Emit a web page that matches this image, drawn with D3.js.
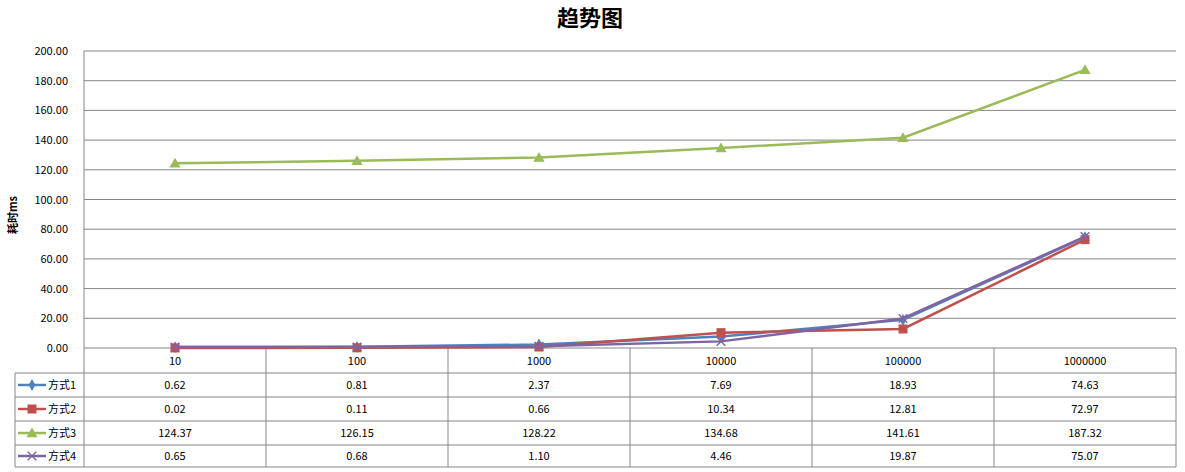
<!DOCTYPE html>
<html>
<head>
<meta charset="utf-8">
<style>
  body { margin: 0; background: #fff; }
  text { font-family: "Noto Sans CJK SC", "DejaVu Sans", sans-serif; }
</style>
</head>
<body>
<svg id="chart" width="1185" height="472"></svg>
<script src="https://cdnjs.cloudflare.com/ajax/libs/d3/7.8.5/d3.min.js"></script>
<script>
var categories = ['10', '100', '1000', '10000', '100000', '1000000'];
var seriesNames = ['方式1', '方式2', '方式3', '方式4'];
var way1 = [0.62, 0.81, 2.37, 7.69, 18.93, 74.63];
var way2 = [0.02, 0.11, 0.66, 10.34, 12.81, 72.97];
var way3 = [124.37, 126.15, 128.22, 134.68, 141.61, 187.32];
var way4 = [0.65, 0.68, 1.10, 4.46, 19.87, 75.07];
var yTicks = [0, 20, 40, 60, 80, 100, 120, 140, 160, 180, 200];
var colors = ['#4F81BD', '#C0504D', '#9BBB59', '#8064A2'];
var series = [way1, way2, way3, way4];

var svg = d3.select('#chart');
var plotLeft = 84, plotRight = 1176, plotTop = 51, plotBottom = 348;
var legendLeft = 15;
var rowTops = [348, 373, 397, 421, 445, 467];

var x = d3.scaleBand().domain(categories).range([plotLeft, plotRight]);
var y = d3.scaleLinear().domain([0, 200]).range([plotBottom, plotTop]);

svg.append('text').attr('x', 590).attr('y', 26).attr('text-anchor', 'middle')
  .attr('font-size', 22).attr('font-weight', 'bold').text('趋势图');

svg.append('text').attr('transform', 'translate(17,215) rotate(-90)')
  .attr('text-anchor', 'middle').attr('font-size', 11).attr('font-weight', 'bold').text('耗时ms');

// gridlines and y labels
yTicks.forEach(function(t) {
  svg.append('line').attr('x1', plotLeft).attr('x2', plotRight).attr('y1', y(t)).attr('y2', y(t))
    .attr('stroke', '#868686').attr('stroke-width', 1);
  svg.append('text').attr('x', plotLeft - 16).attr('y', y(t) + 4).attr('text-anchor', 'end')
    .attr('font-size', 11).text(t.toFixed(2));
});
svg.append('line').attr('x1', plotLeft).attr('x2', plotLeft).attr('y1', plotTop).attr('y2', plotBottom).attr('stroke', '#868686');

// data table
var tbl = svg.append('g').attr('stroke', '#868686').attr('stroke-width', 1);
rowTops.slice(1).forEach(function(r) {
  tbl.append('line').attr('x1', legendLeft).attr('x2', plotRight).attr('y1', r).attr('y2', r);
});
tbl.append('line').attr('x1', legendLeft).attr('x2', legendLeft).attr('y1', rowTops[1]).attr('y2', rowTops[5]);
categories.forEach(function(c) {
  tbl.append('line').attr('x1', x(c)).attr('x2', x(c)).attr('y1', rowTops[0]).attr('y2', rowTops[5]);
});
tbl.append('line').attr('x1', plotRight).attr('x2', plotRight).attr('y1', rowTops[0]).attr('y2', rowTops[5]);

categories.forEach(function(c) {
  svg.append('text').attr('x', x(c) + x.bandwidth() / 2).attr('y', 365).attr('text-anchor', 'middle')
    .attr('font-size', 11).text(c);
});

function marker(g, i, cx, cy) {
  var col = colors[i];
  if (i === 0) g.append('path').attr('d', d3.symbol(d3.symbolDiamond, 40)()).attr('transform', 'translate(' + cx + ',' + cy + ')').attr('fill', col);
  else if (i === 1) g.append('rect').attr('x', cx - 4.5).attr('y', cy - 4.5).attr('width', 9).attr('height', 9).attr('fill', col);
  else if (i === 2) g.append('path').attr('d', d3.symbol(d3.symbolTriangle, 55)()).attr('transform', 'translate(' + cx + ',' + (cy + 1) + ')').attr('fill', col);
  else g.append('path').attr('d', d3.symbol(d3.symbolX, 50)()).attr('transform', 'translate(' + cx + ',' + cy + ')')
    .attr('fill', 'none').attr('stroke', col).attr('stroke-width', 1.5);
}

var line = d3.line().x(function(d, i) { return x(categories[i]) + x.bandwidth() / 2; }).y(function(d) { return y(d); });

series.forEach(function(s, i) {
  var g = svg.append('g');
  g.append('path').attr('d', line(s)).attr('fill', 'none').attr('stroke', colors[i]).attr('stroke-width', 2.5);
  s.forEach(function(v, j) { marker(g, i, x(categories[j]) + x.bandwidth() / 2, y(v)); });

  var rowMid = (rowTops[i + 1] + rowTops[i + 2]) / 2;
  var lg = svg.append('g');
  lg.append('line').attr('x1', 18).attr('x2', 46).attr('y1', rowMid).attr('y2', rowMid).attr('stroke', colors[i]).attr('stroke-width', 2.5);
  marker(lg, i, 32, rowMid);
  svg.append('text').attr('x', 48).attr('y', rowMid + 4).attr('font-size', 11).text(seriesNames[i]);
  s.forEach(function(v, j) {
    svg.append('text').attr('x', x(categories[j]) + x.bandwidth() / 2).attr('y', rowMid + 4)
      .attr('text-anchor', 'middle').attr('font-size', 11).text(v.toFixed(2));
  });
});
</script>
</body>
</html>
